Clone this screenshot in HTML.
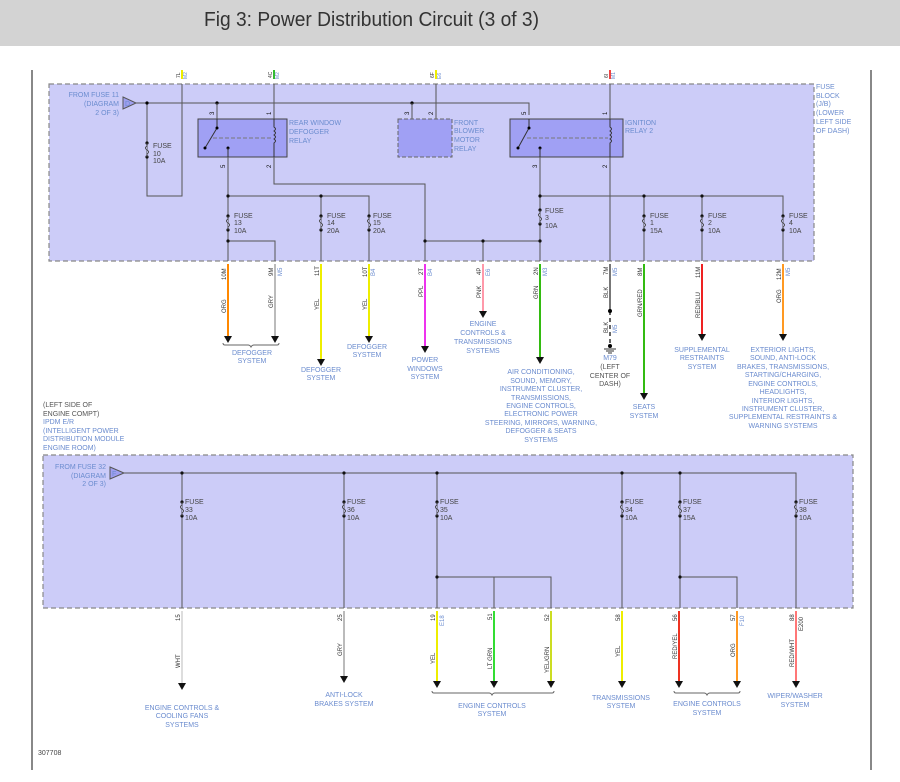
<!DOCTYPE html>
<html><head><meta charset="utf-8"><style>
body{margin:0;background:#fff;}
svg{display:block;font-family:"Liberation Sans",sans-serif;}
.b{fill:#6b8ccf;font-size:7px;}
.k{fill:#444;font-size:7px;}
.w{stroke:#555;stroke-width:1;fill:none;}
</style></head><body>
<svg width="900" height="782" viewBox="0 0 900 782">
<defs>
<g id="fz"><circle cx="0" cy="0" r="1.6" fill="#111"/><circle cx="0" cy="14" r="1.6" fill="#111"/><path d="M0,0 v3 q-3,2 0,4 q3,2 0,4 v3" stroke="#444" fill="#ccccf8"/></g>
<path id="ar" d="M-4,0 h8 l-4,7 z" fill="#111"/>
<path id="cn" d="M-4,-3 q4,0 4,4 q0,-4 4,-4" stroke="#666" fill="none" stroke-width="0.8"/>
</defs>
<rect x="0" y="0" width="900" height="46" fill="#d3d3d3"/>
<text x="204" y="26" font-size="20" fill="#333" textLength="335" lengthAdjust="spacingAndGlyphs">Fig 3: Power Distribution Circuit (3 of 3)</text>
<line x1="32" y1="70" x2="32" y2="770" stroke="#111"/>
<line x1="871" y1="70" x2="871" y2="770" stroke="#111"/>

<!-- top box -->
<rect x="49" y="84" width="765" height="177" fill="#ccccf8" stroke="#888" stroke-dasharray="5,3" stroke-width="1.2"/>
<path d="M123,97 l13,6 l-13,6 z" fill="#9f9ff0" stroke="#555"/>
<text x="125" y="106" class="b" font-size="6">D</text>
<text class="b" text-anchor="end"><tspan x="119" y="97">FROM FUSE 11</tspan><tspan x="119" y="106">(DIAGRAM</tspan><tspan x="119" y="115">2 OF 3)</tspan></text>
<text class="b" fill="#8a6fb0"><tspan x="816" y="89">FUSE</tspan><tspan x="816" y="98">BLOCK</tspan><tspan x="816" y="106">(J/B)</tspan><tspan x="816" y="115">(LOWER</tspan><tspan x="816" y="124">LEFT SIDE</tspan><tspan x="816" y="133">OF DASH)</tspan></text>

<!-- bus -->
<path class="w" d="M136,103 H529 V115"/>
<path class="w" d="M147,103 V196 H182 V84"/>
<circle cx="147" cy="103" r="1.6"/><circle cx="217" cy="103" r="1.6"/><circle cx="412" cy="103" r="1.6"/>
<use href="#fz" x="147" y="143"/>
<text class="k"><tspan x="153" y="148">FUSE</tspan><tspan x="153" y="156">10</tspan><tspan x="153" y="163">10A</tspan></text>
<!-- top connectors -->
<path class="w" d="M274,84 V119"/><path class="w" d="M217,103 V119"/>
<path class="w" d="M412,103 V119"/><path class="w" d="M436,84 V119"/>
<path class="w" d="M610,84 V261"/>
<g font-size="5" fill="#333">
<text transform="translate(180,78) rotate(-90)">7L</text><rect x="181" y="70" width="2" height="9" fill="#ee0"/><text transform="translate(187,79) rotate(-90)" fill="#6b8ccf">M2</text>
<text transform="translate(272,78) rotate(-90)">4C</text><rect x="273" y="70" width="2" height="9" fill="#3b3"/><text transform="translate(279,79) rotate(-90)" fill="#6b8ccf">M2</text>
<text transform="translate(434,78) rotate(-90)">6F</text><rect x="435" y="70" width="2" height="9" fill="#ee0"/><text transform="translate(441,79) rotate(-90)" fill="#6b8ccf">E6</text>
<text transform="translate(608,78) rotate(-90)">6I</text><rect x="609" y="70" width="2" height="9" fill="#e44"/><text transform="translate(615,79) rotate(-90)" fill="#6b8ccf">M1</text>
</g>
<g fill="#111" font-size="6">
<text transform="translate(214,115) rotate(-90)">3</text><text transform="translate(271,115) rotate(-90)">1</text>
<text transform="translate(409,115) rotate(-90)">3</text><text transform="translate(433,115) rotate(-90)">2</text>
<text transform="translate(526,115) rotate(-90)">5</text><text transform="translate(607,115) rotate(-90)">1</text>
<text transform="translate(225,168) rotate(-90)">5</text><text transform="translate(271,168) rotate(-90)">2</text>
<text transform="translate(537,168) rotate(-90)">3</text><text transform="translate(607,168) rotate(-90)">2</text>
</g>
<!-- relays -->
<rect x="198" y="119" width="89" height="38" fill="#a0a0f4" stroke="#444"/>
<path d="M217,119 V128 L205,148" stroke="#333" fill="none"/><circle cx="217" cy="128" r="1.5"/><circle cx="205" cy="148" r="1.5"/>
<circle cx="228" cy="148" r="1.5"/><path d="M228,148 V157" stroke="#333"/>
<path d="M213,138 H272" stroke="#777" stroke-dasharray="4,2"/>
<path d="M274,119 V127 q3,2 0,4 q3,2 0,4 q3,2 0,4 q3,2 0,4 V157" stroke="#333" fill="none"/>
<text class="b"><tspan x="289" y="125">REAR WINDOW</tspan><tspan x="289" y="134">DEFOGGER</tspan><tspan x="289" y="143">RELAY</tspan></text>
<rect x="398" y="119" width="54" height="38" fill="#a0a0f4" stroke="#666" stroke-dasharray="4,2"/>
<text class="b"><tspan x="454" y="125">FRONT</tspan><tspan x="454" y="133">BLOWER</tspan><tspan x="454" y="142">MOTOR</tspan><tspan x="454" y="151">RELAY</tspan></text>
<rect x="510" y="119" width="113" height="38" fill="#a0a0f4" stroke="#444"/>
<path d="M529,119 V128 L518,148" stroke="#333" fill="none"/><circle cx="529" cy="128" r="1.5"/><circle cx="518" cy="148" r="1.5"/>
<circle cx="540" cy="148" r="1.5"/><path d="M540,148 V157" stroke="#333"/>
<path d="M527,138 H608" stroke="#777" stroke-dasharray="4,2"/>
<path d="M610,119 V127 q3,2 0,4 q3,2 0,4 q3,2 0,4 q3,2 0,4 V157" stroke="#333" fill="#a0a0f4"/>
<text class="b"><tspan x="625" y="125">IGNITION</tspan><tspan x="625" y="133">RELAY 2</tspan></text>

<!-- lower top-box wiring -->
<path class="w" d="M228,157 V261 M228,196 H369 V261 M321,196 V261 M228,241 H275 V261"/>
<path class="w" d="M274,157 V184 H425 V261 M425,241 H540 M483,241 V261"/>
<path class="w" d="M540,157 V261 M540,196 H783 V261 M644,196 V261 M702,196 V261"/>
<g fill="#111"><circle cx="228" cy="196" r="1.6"/><circle cx="321" cy="196" r="1.6"/><circle cx="228" cy="241" r="1.6"/><circle cx="425" cy="241" r="1.6"/><circle cx="483" cy="241" r="1.6"/><circle cx="540" cy="241" r="1.6"/><circle cx="540" cy="196" r="1.6"/><circle cx="644" cy="196" r="1.6"/><circle cx="702" cy="196" r="1.6"/></g>
<use href="#fz" x="228" y="216"/><text class="k"><tspan x="234" y="218">FUSE</tspan><tspan x="234" y="225">13</tspan><tspan x="234" y="233">10A</tspan></text>
<use href="#fz" x="321" y="216"/><text class="k"><tspan x="327" y="218">FUSE</tspan><tspan x="327" y="225">14</tspan><tspan x="327" y="233">20A</tspan></text>
<use href="#fz" x="369" y="216"/><text class="k"><tspan x="373" y="218">FUSE</tspan><tspan x="373" y="225">15</tspan><tspan x="373" y="233">20A</tspan></text>
<use href="#fz" x="540" y="210"/><text class="k"><tspan x="545" y="213">FUSE</tspan><tspan x="545" y="220">3</tspan><tspan x="545" y="228">10A</tspan></text>
<use href="#fz" x="644" y="216"/><text class="k"><tspan x="650" y="218">FUSE</tspan><tspan x="650" y="225">1</tspan><tspan x="650" y="233">15A</tspan></text>
<use href="#fz" x="702" y="216"/><text class="k"><tspan x="708" y="218">FUSE</tspan><tspan x="708" y="225">2</tspan><tspan x="708" y="233">10A</tspan></text>
<use href="#fz" x="783" y="216"/><text class="k"><tspan x="789" y="218">FUSE</tspan><tspan x="789" y="225">4</tspan><tspan x="789" y="233">10A</tspan></text>

<!-- top outgoing wires -->
<g stroke-width="2">
<line x1="228" y1="264" x2="228" y2="336" stroke="#f80"/>
<line x1="275" y1="264" x2="275" y2="336" stroke="#bbb"/>
<line x1="321" y1="264" x2="321" y2="359" stroke="#ee0"/>
<line x1="369" y1="264" x2="369" y2="336" stroke="#ee0"/>
<line x1="425" y1="264" x2="425" y2="346" stroke="#e3e"/>
<line x1="483" y1="264" x2="483" y2="311" stroke="#f9a"/>
<line x1="540" y1="264" x2="540" y2="357" stroke="#3b1"/>
<line x1="610" y1="264" x2="610" y2="311" stroke="#777"/>
<line x1="644" y1="264" x2="644" y2="393" stroke="#3b1"/>
<line x1="702" y1="264" x2="702" y2="334" stroke="#e22"/>
<line x1="783" y1="264" x2="783" y2="334" stroke="#f92"/>
</g>
<line x1="610" y1="311" x2="610" y2="345" stroke="#333" stroke-width="1.5" stroke-dasharray="4,3"/>
<circle cx="610" cy="311" r="2"/><circle cx="610" cy="346" r="2"/>
<path d="M604,349 h12 M606,351 h8 M608,353 h4" stroke="#333"/>
<use href="#ar" x="228" y="336"/><use href="#ar" x="275" y="336"/><use href="#ar" x="321" y="359"/><use href="#ar" x="369" y="336"/><use href="#ar" x="425" y="346"/><use href="#ar" x="483" y="311"/><use href="#ar" x="540" y="357"/><use href="#ar" x="644" y="393"/><use href="#ar" x="702" y="334"/><use href="#ar" x="783" y="334"/>
<g fill="#333" font-size="6">
<text transform="translate(226,280) rotate(-90)">10M</text><text transform="translate(226,313) rotate(-90)">ORG</text>
<text transform="translate(273,276) rotate(-90)">9M</text><text transform="translate(273,308) rotate(-90)">GRY</text><text transform="translate(282,276) rotate(-90)" fill="#6b8ccf">M5</text>
<text transform="translate(319,276) rotate(-90)">11T</text><text transform="translate(319,310) rotate(-90)">YEL</text>
<text transform="translate(367,277) rotate(-90)">10T</text><text transform="translate(367,310) rotate(-90)">YEL</text><text transform="translate(375,276) rotate(-90)" fill="#6b8ccf">B4</text>
<text transform="translate(423,275) rotate(-90)">2T</text><text transform="translate(423,297) rotate(-90)">PPL</text><text transform="translate(432,276) rotate(-90)" fill="#6b8ccf">B4</text>
<text transform="translate(481,275) rotate(-90)">4P</text><text transform="translate(481,298) rotate(-90)">PNK</text><text transform="translate(490,276) rotate(-90)" fill="#6b8ccf">E6</text>
<text transform="translate(538,275) rotate(-90)">2N</text><text transform="translate(538,299) rotate(-90)">GRN</text><text transform="translate(547,276) rotate(-90)" fill="#6b8ccf">M3</text>
<text transform="translate(608,275) rotate(-90)">7M</text><text transform="translate(608,298) rotate(-90)">BLK</text><text transform="translate(608,333) rotate(-90)">BLK</text><text transform="translate(617,276) rotate(-90)" fill="#6b8ccf">M5</text><text transform="translate(617,333) rotate(-90)" fill="#6b8ccf">M5</text>
<text transform="translate(642,276) rotate(-90)">8M</text><text transform="translate(642,317) rotate(-90)">GRN/RED</text>
<text transform="translate(700,278) rotate(-90)">11M</text><text transform="translate(700,318) rotate(-90)">RED/BLU</text>
<text transform="translate(781,280) rotate(-90)">12M</text><text transform="translate(781,303) rotate(-90)">ORG</text><text transform="translate(790,276) rotate(-90)" fill="#6b8ccf">M5</text>
</g>
<path d="M223,343 q0,2 2,2 h23 q2,0 3,2 q1,-2 3,-2 h23 q2,0 2,-2" stroke="#666" fill="none"/>
<g class="b" text-anchor="middle">
<text><tspan x="252" y="355">DEFOGGER</tspan><tspan x="252" y="363">SYSTEM</tspan></text>
<text><tspan x="321" y="372">DEFOGGER</tspan><tspan x="321" y="380">SYSTEM</tspan></text>
<text><tspan x="367" y="349">DEFOGGER</tspan><tspan x="367" y="357">SYSTEM</tspan></text>
<text><tspan x="425" y="362">POWER</tspan><tspan x="425" y="371">WINDOWS</tspan><tspan x="425" y="379">SYSTEM</tspan></text>
<text><tspan x="483" y="326">ENGINE</tspan><tspan x="483" y="335">CONTROLS &amp;</tspan><tspan x="483" y="344">TRANSMISSIONS</tspan><tspan x="483" y="353">SYSTEMS</tspan></text>
<text><tspan x="541" y="374">AIR CONDITIONING,</tspan><tspan x="541" y="383">SOUND, MEMORY,</tspan><tspan x="541" y="391">INSTRUMENT CLUSTER,</tspan><tspan x="541" y="400">TRANSMISSIONS,</tspan><tspan x="541" y="408">ENGINE CONTROLS,</tspan><tspan x="541" y="416">ELECTRONIC POWER</tspan><tspan x="541" y="425">STEERING, MIRRORS, WARNING,</tspan><tspan x="541" y="433">DEFOGGER &amp; SEATS</tspan><tspan x="541" y="442">SYSTEMS</tspan></text>
<text><tspan x="610" y="360">M79</tspan><tspan x="610" y="369" fill="#555">(LEFT</tspan><tspan x="610" y="378" fill="#555">CENTER OF</tspan><tspan x="610" y="386" fill="#555">DASH)</tspan></text>
<text><tspan x="644" y="409">SEATS</tspan><tspan x="644" y="418">SYSTEM</tspan></text>
<text><tspan x="702" y="352">SUPPLEMENTAL</tspan><tspan x="702" y="360">RESTRAINTS</tspan><tspan x="702" y="369">SYSTEM</tspan></text>
<text><tspan x="783" y="352">EXTERIOR LIGHTS,</tspan><tspan x="783" y="360">SOUND, ANTI-LOCK</tspan><tspan x="783" y="369">BRAKES, TRANSMISSIONS,</tspan><tspan x="783" y="377">STARTING/CHARGING,</tspan><tspan x="783" y="386">ENGINE CONTROLS,</tspan><tspan x="783" y="394">HEADLIGHTS,</tspan><tspan x="783" y="403">INTERIOR LIGHTS,</tspan><tspan x="783" y="411">INSTRUMENT CLUSTER,</tspan><tspan x="783" y="419">SUPPLEMENTAL RESTRAINTS &amp;</tspan><tspan x="783" y="428">WARNING SYSTEMS</tspan></text>
</g>
<text class="b"><tspan x="43" y="407" fill="#555">(LEFT SIDE OF</tspan><tspan x="43" y="416" fill="#555">ENGINE COMPT)</tspan><tspan x="43" y="424">IPDM E/R</tspan><tspan x="43" y="433">(INTELLIGENT POWER</tspan><tspan x="43" y="441">DISTRIBUTION MODULE</tspan><tspan x="43" y="450">ENGINE ROOM)</tspan></text>

<!-- bottom box -->
<rect x="43" y="455" width="810" height="153" fill="#ccccf8" stroke="#888" stroke-dasharray="5,3" stroke-width="1.2"/>
<path d="M110,467 l14,6 l-14,6 z" fill="#9f9ff0" stroke="#555"/>
<text x="112" y="476" class="b" font-size="6">F</text>
<text class="b" text-anchor="end"><tspan x="106" y="469">FROM FUSE 32</tspan><tspan x="106" y="478">(DIAGRAM</tspan><tspan x="106" y="486">2 OF 3)</tspan></text>
<path class="w" d="M124,473 H796 V608 M182,473 V608 M344,473 V608 M437,473 V608 M622,473 V608 M680,473 V608 M437,577 H551 V608 M494,577 V608 M680,577 H737 V608"/>
<g fill="#111"><circle cx="182" cy="473" r="1.6"/><circle cx="344" cy="473" r="1.6"/><circle cx="437" cy="473" r="1.6"/><circle cx="622" cy="473" r="1.6"/><circle cx="680" cy="473" r="1.6"/><circle cx="437" cy="577" r="1.6"/><circle cx="680" cy="577" r="1.6"/></g>
<use href="#fz" x="182" y="502"/><text class="k"><tspan x="185" y="504">FUSE</tspan><tspan x="185" y="512">33</tspan><tspan x="185" y="520">10A</tspan></text>
<use href="#fz" x="344" y="502"/><text class="k"><tspan x="347" y="504">FUSE</tspan><tspan x="347" y="512">36</tspan><tspan x="347" y="520">10A</tspan></text>
<use href="#fz" x="437" y="502"/><text class="k"><tspan x="440" y="504">FUSE</tspan><tspan x="440" y="512">35</tspan><tspan x="440" y="520">10A</tspan></text>
<use href="#fz" x="622" y="502"/><text class="k"><tspan x="625" y="504">FUSE</tspan><tspan x="625" y="512">34</tspan><tspan x="625" y="520">10A</tspan></text>
<use href="#fz" x="680" y="502"/><text class="k"><tspan x="683" y="504">FUSE</tspan><tspan x="683" y="512">37</tspan><tspan x="683" y="520">15A</tspan></text>
<use href="#fz" x="796" y="502"/><text class="k"><tspan x="799" y="504">FUSE</tspan><tspan x="799" y="512">38</tspan><tspan x="799" y="520">10A</tspan></text>

<g stroke-width="2">
<line x1="182" y1="611" x2="182" y2="683" stroke="#ddd"/>
<line x1="344" y1="611" x2="344" y2="676" stroke="#bbb"/>
<line x1="437" y1="611" x2="437" y2="681" stroke="#ee0"/>
<line x1="494" y1="611" x2="494" y2="681" stroke="#3d3"/>
<line x1="551" y1="611" x2="551" y2="681" stroke="#cd2"/>
<line x1="622" y1="611" x2="622" y2="681" stroke="#ee0"/>
<line x1="679" y1="611" x2="679" y2="681" stroke="#e32"/>
<line x1="737" y1="611" x2="737" y2="681" stroke="#f92"/>
<line x1="796" y1="611" x2="796" y2="681" stroke="#f77"/>
</g>
<use href="#ar" x="182" y="683"/><use href="#ar" x="344" y="676"/><use href="#ar" x="437" y="681"/><use href="#ar" x="494" y="681"/><use href="#ar" x="551" y="681"/><use href="#ar" x="622" y="681"/><use href="#ar" x="679" y="681"/><use href="#ar" x="737" y="681"/><use href="#ar" x="796" y="681"/>
<g fill="#333" font-size="6">
<text transform="translate(180,621) rotate(-90)">15</text><text transform="translate(180,668) rotate(-90)">WHT</text>
<text transform="translate(342,621) rotate(-90)">25</text><text transform="translate(342,656) rotate(-90)">GRY</text>
<text transform="translate(435,621) rotate(-90)">19</text><text transform="translate(435,664) rotate(-90)">YEL</text><text transform="translate(444,626) rotate(-90)" fill="#6b8ccf">E18</text>
<text transform="translate(492,620) rotate(-90)">51</text><text transform="translate(492,669) rotate(-90)">LT GRN</text>
<text transform="translate(549,621) rotate(-90)">52</text><text transform="translate(549,673) rotate(-90)">YEL/GRN</text>
<text transform="translate(620,621) rotate(-90)">58</text><text transform="translate(620,657) rotate(-90)">YEL</text>
<text transform="translate(677,621) rotate(-90)">56</text><text transform="translate(677,659) rotate(-90)">RED/YEL</text>
<text transform="translate(735,621) rotate(-90)">57</text><text transform="translate(735,657) rotate(-90)">ORG</text><text transform="translate(744,626) rotate(-90)" fill="#6b8ccf">F10</text>
<text transform="translate(794,621) rotate(-90)">88</text><text transform="translate(794,667) rotate(-90)">RED/WHT</text><text transform="translate(803,631) rotate(-90)">E200</text>
</g>
<path d="M432,691 q0,2 2,2 h55 q2,0 3,2 q1,-2 3,-2 h57 q2,0 2,-2" stroke="#666" fill="none"/>
<path d="M674,691 q0,2 2,2 h28 q2,0 3,2 q1,-2 3,-2 h28 q2,0 2,-2" stroke="#666" fill="none"/>
<g class="b" text-anchor="middle">
<text><tspan x="182" y="710">ENGINE CONTROLS &amp;</tspan><tspan x="182" y="718">COOLING FANS</tspan><tspan x="182" y="727">SYSTEMS</tspan></text>
<text><tspan x="344" y="697">ANTI-LOCK</tspan><tspan x="344" y="706">BRAKES SYSTEM</tspan></text>
<text><tspan x="492" y="708">ENGINE CONTROLS</tspan><tspan x="492" y="716">SYSTEM</tspan></text>
<text><tspan x="621" y="700">TRANSMISSIONS</tspan><tspan x="621" y="708">SYSTEM</tspan></text>
<text><tspan x="707" y="706">ENGINE CONTROLS</tspan><tspan x="707" y="715">SYSTEM</tspan></text>
<text><tspan x="795" y="698">WIPER/WASHER</tspan><tspan x="795" y="707">SYSTEM</tspan></text>
</g>
<text x="38" y="755" class="k" font-size="6">307708</text>
</svg>
</body></html>
